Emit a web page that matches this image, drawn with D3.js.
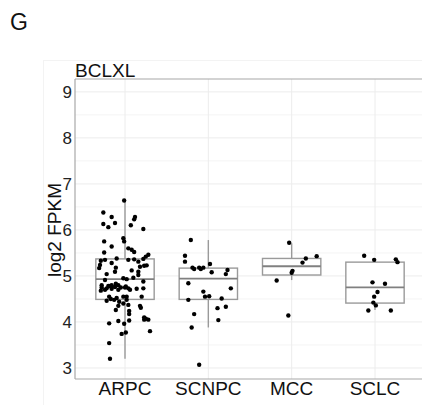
<!DOCTYPE html>
<html>
<head>
<meta charset="utf-8">
<script src="https://cdn.jsdelivr.net/npm/d3@7"></script>
<style>
  body { margin: 0; background: #fff; }
  svg { display: block; font-family: "Liberation Sans", Arial, sans-serif; }
</style>
</head>
<body>
<svg width="422" height="405"></svg>
<script>
// categories and box stats (log2 FPKM)
const groups = ['ARPC', 'SCNPC', 'MCC', 'SCLC']
const boxLow = [3.20, 3.88, 4.91, 4.26]
const boxQ1 = [4.49, 4.49, 5.02, 4.41]
const boxMed = [4.93, 4.94, 5.21, 4.75]
const boxQ3 = [5.37, 5.17, 5.38, 5.30]
const boxHigh = [6.65, 5.78, 5.71, 5.36]
const yTicks = [3, 4, 5, 6, 7, 8, 9]

// jittered samples: value and horizontal jitter (category units)
const arpcValues = [6.64, 6.38, 6.28, 6.28, 6.23, 6.13, 6.15, 6.06, 6.10, 6.02,
  5.75, 5.82, 5.75, 5.64, 5.60, 5.57, 5.52, 5.51, 5.38, 5.35,
  5.36, 5.31, 5.37, 5.42, 5.46, 5.33, 5.35, 5.24, 5.17, 5.28,
  5.18, 5.20, 5.22, 5.23, 5.09, 5.04, 5.09, 4.95, 4.93, 4.96,
  5.02, 4.88, 4.91, 4.78, 4.80, 4.83, 4.80, 4.75, 4.75, 4.73,
  4.75, 4.70, 4.80, 4.73, 4.78, 4.72, 4.76, 4.70, 4.77, 4.70,
  4.72, 4.73, 4.55, 4.46, 4.50, 4.48, 4.52, 4.44, 4.55, 4.55,
  4.48, 4.37, 4.40, 4.35, 4.55, 4.35, 4.31, 4.24, 4.17, 4.10,
  4.07, 4.05, 4.05, 4.26, 3.97, 4.02, 3.96, 4.03, 3.74, 3.77,
  3.80, 3.54, 3.20, 4.68, 5.12]
const arpcJitter = [-0.01, -0.26, -0.16, 0.12, 0.11, -0.26, -0.12, -0.20, 0.07, 0.22,
  -0.25, -0.02, -0.01, -0.16, 0.04, 0.08, 0.11, -0.25, -0.10, 0.04,
  0.11, 0.16, 0.22, 0.25, 0.28, -0.29, -0.24, -0.30, -0.31, -0.16,
  -0.11, 0.18, 0.23, 0.26, -0.12, -0.22, 0.16, -0.02, 0.02, 0.10,
  0.16, 0.22, -0.24, -0.20, -0.16, -0.11, -0.08, -0.05, 0.00, 0.04,
  -0.28, -0.24, -0.28, -0.22, -0.18, -0.16, -0.12, -0.08, 0.01, 0.06,
  0.14, 0.22, -0.19, -0.22, -0.17, -0.13, -0.10, -0.07, -0.02, 0.02,
  0.02, 0.04, -0.02, -0.08, 0.20, 0.18, 0.19, 0.05, 0.05, 0.23,
  0.25, 0.28, 0.23, -0.11, -0.19, -0.08, -0.01, 0.05, -0.04, 0.01,
  0.30, -0.19, -0.18, -0.29, 0.08]
const scnpcValues = [5.78, 5.44, 5.31, 5.18, 5.15, 5.18, 5.15, 5.18, 5.26, 5.08,
  5.13, 5.04, 4.84, 4.73, 4.66, 4.55, 4.56, 4.51, 4.48, 4.30,
  4.33, 4.17, 3.88, 4.04, 3.07]
const scnpcJitter = [-0.21, -0.28, -0.28, -0.19, -0.17, -0.11, -0.09, -0.06, 0.02, 0.04,
  0.23, 0.21, -0.24, 0.27, -0.06, -0.04, 0.01, 0.16, -0.24, 0.11,
  0.21, -0.17, -0.20, 0.12, -0.11]
const mccValues = [5.72, 5.11, 5.07, 4.90, 4.14, 5.29, 5.38, 5.43]
const mccJitter = [-0.03, 0.01, 0.00, -0.18, -0.04, 0.13, 0.17, 0.30]
const sclcValues = [5.44, 5.35, 5.36, 5.30, 4.86, 4.83, 4.65, 4.55, 4.42, 4.36, 4.25, 4.25]
const sclcJitter = [-0.13, -0.01, 0.25, 0.27, -0.03, 0.12, 0.03, -0.01, -0.02, 0.01, -0.08, 0.19]

const sampleValues = [arpcValues, scnpcValues, mccValues, sclcValues]
const sampleJitter = [arpcJitter, scnpcJitter, mccJitter, sclcJitter]

let svg = d3.select('svg')
let pLeft = 75, pRight = 425, pTop = 79, pBottom = 379

let x = d3.scalePoint().domain(groups).range([pLeft, pRight]).padding(0.6)
let y = d3.scaleLinear().domain([2.76, 9.28]).range([pBottom, pTop])
let step = x.step()
let boxW = step * 0.7

// faint outer frame
svg.append('rect')
    .attr('x', 43.5).attr('y', 60.5).attr('width', 400).attr('height', 360)
    .style('fill', 'none').style('stroke', '#f3f3f3')

// grid
let grid = svg.append('g')
grid.selectAll('.minor').data(d3.range(3.5, 9, 1)).enter().append('line')
    .attr('x1', pLeft).attr('x2', pRight)
    .attr('y1', d => y(d)).attr('y2', d => y(d))
    .style('stroke', '#f4f4f4').style('stroke-width', 1)
grid.selectAll('.major').data(yTicks).enter().append('line')
    .attr('x1', pLeft).attr('x2', pRight)
    .attr('y1', d => y(d)).attr('y2', d => y(d))
    .style('stroke', '#ececec').style('stroke-width', 1)
grid.selectAll('.vgrid').data(groups).enter().append('line')
    .attr('x1', d => x(d)).attr('x2', d => x(d))
    .attr('y1', pTop).attr('y2', pBottom)
    .style('stroke', '#ececec').style('stroke-width', 1)

// boxplots
let boxCol = '#9a9a9a'
let boxes = svg.selectAll('.box').data(groups).enter().append('g')
boxes.append('line')
    .attr('x1', d => x(d)).attr('x2', d => x(d))
    .attr('y1', (d, i) => y(boxHigh[i])).attr('y2', (d, i) => y(boxLow[i]))
    .style('stroke', boxCol).style('stroke-width', 1.4)
boxes.append('rect')
    .attr('x', d => x(d) - boxW / 2).attr('width', boxW)
    .attr('y', (d, i) => y(boxQ3[i]))
    .attr('height', (d, i) => y(boxQ1[i]) - y(boxQ3[i]))
    .style('fill', '#fff').style('stroke', boxCol).style('stroke-width', 1.4)
boxes.append('line')
    .attr('x1', d => x(d) - boxW / 2).attr('x2', d => x(d) + boxW / 2)
    .attr('y1', (d, i) => y(boxMed[i])).attr('y2', (d, i) => y(boxMed[i]))
    .style('stroke', '#808080').style('stroke-width', 1.8)

// jittered points
let pts = []
groups.forEach((g, i) => {
    sampleValues[i].forEach((v, j) => pts.push({g: g, v: v, j: sampleJitter[i][j]}))
})
svg.selectAll('.pt').data(pts).enter().append('circle')
    .attr('cx', d => x(d.g) + d.j * step)
    .attr('cy', d => y(d.v))
    .attr('r', 2.2)
    .style('fill', '#000')

// axis lines
let axCol = '#a8a8a8'
svg.append('line').attr('x1', pLeft).attr('x2', pRight).attr('y1', pTop).attr('y2', pTop)
    .style('stroke', axCol).style('stroke-width', 1.2)
svg.append('line').attr('x1', pLeft).attr('x2', pLeft).attr('y1', pTop).attr('y2', pBottom)
    .style('stroke', axCol).style('stroke-width', 1.2)
svg.append('line').attr('x1', pLeft).attr('x2', pRight).attr('y1', pBottom).attr('y2', pBottom)
    .style('stroke', axCol).style('stroke-width', 1.2)

// tick labels
svg.selectAll('.ytick').data(yTicks).enter().append('text')
    .attr('x', 72).attr('y', d => y(d)).attr('dy', '0.36em')
    .attr('text-anchor', 'end')
    .attr('font-size', 17).style('fill', '#222')
    .text(d => d)
svg.selectAll('.xtick').data(groups).enter().append('text')
    .attr('x', d => x(d)).attr('y', 395)
    .attr('text-anchor', 'middle')
    .attr('font-size', 19).style('fill', '#111')
    .text(d => d)

// labels
svg.append('text').attr('transform', 'translate(61,230) rotate(-90)')
    .attr('text-anchor', 'middle').attr('font-size', 19).style('fill', '#111')
    .text('log2 FPKM')
svg.append('text').attr('x', 75).attr('y', 77)
    .attr('font-size', 19).style('fill', '#111')
    .text('BCLXL')
svg.append('text').attr('x', 10).attr('y', 30)
    .attr('font-size', 23).style('fill', '#111')
    .text('G')
</script>
</body>
</html>
